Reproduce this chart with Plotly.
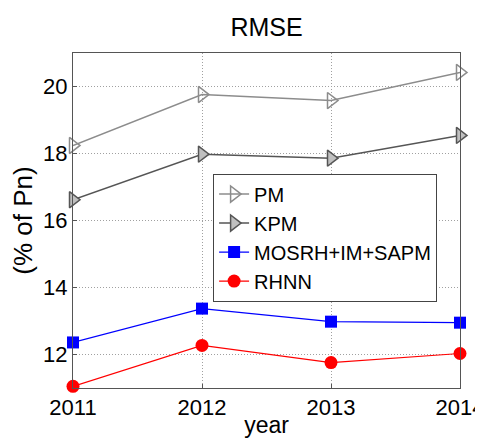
import plotly.graph_objects as go

years = [2011, 2012, 2013, 2014]
pm = [18.24, 19.76, 19.58, 20.42]
kpm = [16.62, 17.98, 17.86, 18.54]
mosrh = [12.36, 13.37, 12.98, 12.95]
rhnn = [11.05, 12.27, 11.76, 12.03]

FONT = "Liberation Sans, Arial, sans-serif"

fig = go.Figure()

fig.add_trace(go.Scatter(
    x=years, y=pm, name="PM", mode="lines+markers",
    line=dict(color="#8c8c8c", width=1.5),
    marker=dict(symbol="triangle-right-open", size=14, color="#8c8c8c", line=dict(width=1.5)),
    cliponaxis=False
))

fig.add_trace(go.Scatter(
    x=years, y=kpm, name="KPM", mode="lines+markers",
    line=dict(color="#555555", width=1.5),
    marker=dict(symbol="triangle-right", size=14, color="#c0c0c0",
                line=dict(color="#555555", width=1.5)),
    cliponaxis=False
))

fig.add_trace(go.Scatter(
    x=years, y=mosrh, name="MOSRH+IM+SAPM", mode="lines+markers",
    line=dict(color="#0000ff", width=1.2),
    marker=dict(symbol="square", size=12, color="#0000ff"),
    cliponaxis=False
))

fig.add_trace(go.Scatter(
    x=years, y=rhnn, name="RHNN", mode="lines+markers",
    line=dict(color="#ff0000", width=1.2),
    marker=dict(symbol="circle", size=13, color="#ff0000"),
    cliponaxis=False
))

# page body adds ~8px offset, so the figure is 8px smaller each way
fig.update_layout(
    width=475,
    height=430,
    paper_bgcolor="white",
    plot_bgcolor="white",
    margin=dict(l=65, r=23, t=45, b=50),
    font=dict(family=FONT, size=21, color="black"),
    title=dict(text="RMSE", xref="paper", x=0.5, xanchor="center",
               y=0.955, yanchor="middle", font=dict(size=25)),
    showlegend=True,
    legend=dict(
        x=0.362, y=0.64, xanchor="left", yanchor="top",
        bgcolor="white", bordercolor="#444444", borderwidth=1,
        font=dict(size=20), tracegroupgap=0, itemwidth=30
    ),
    xaxis=dict(
        range=[2011, 2014], tickvals=years, ticklabeloverflow="allow",
        automargin=False,
        showgrid=True, gridcolor="#a0a0a0", griddash="1px,2px", gridwidth=1,
        showline=True, linecolor="#555555", linewidth=1, mirror=True,
        ticks="inside", ticklen=4, tickcolor="#555555",
        zeroline=False, tickfont=dict(size=22),
        title=dict(text="year", font=dict(size=23), standoff=4)
    ),
    yaxis=dict(
        range=[11, 21], tickvals=[12, 14, 16, 18, 20],
        automargin=False,
        showgrid=True, gridcolor="#a0a0a0", griddash="1px,2px", gridwidth=1,
        showline=True, linecolor="#555555", linewidth=1, mirror=True,
        ticks="inside", ticklen=4, tickcolor="#555555",
        zeroline=False, tickfont=dict(size=22),
        title=dict(text="(% of Pn)", font=dict(size=26), standoff=6)
    )
)

fig.write_html("out.html")
